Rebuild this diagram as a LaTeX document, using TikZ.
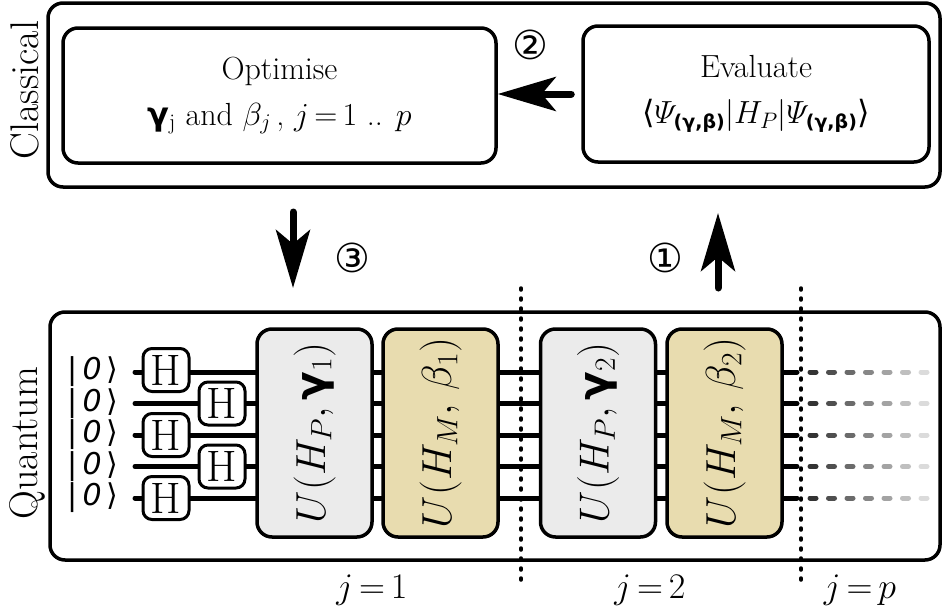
\RequirePackage{fix-cm}
\documentclass[tikz,border=0pt]{standalone}
\usepackage{amsmath}
\usepackage{fontspec}
\newfontfamily\dv{DejaVu Sans}
\usetikzlibrary{arrows.meta}
\definecolor{ugray}{RGB}{235,235,235}
\definecolor{utan}{RGB}{232,220,175}
\newcommand{\gam}{{\dv\bfseries γ}}
\newcommand{\gb}{\mbox{\dv\bfseries\fontsize{19}{19}\selectfont(γ,β)}}
\begin{document}
\begin{tikzpicture}[x=1pt,y=-1pt,
 frame/.style={draw, line width=3.5pt, rounded corners=15pt, inner sep=0pt},
 hbox/.style={draw, line width=3pt, rounded corners=9pt, fill=white, minimum width=46pt, minimum height=43pt, inner sep=0pt, font=\fontsize{44}{44}\selectfont},
 ubox/.style={draw, line width=3.5pt, rounded corners=15pt, rotate=90, minimum width=208pt, minimum height=115pt, inner sep=0pt, font=\fontsize{42}{42}\selectfont},
 wire/.style={line width=5pt, line cap=round},
 bigarrow/.style={line width=7pt, line cap=round, -{Stealth[length=58pt,width=34pt,inset=14pt]}},
 sep/.style={line width=3.5pt, line cap=round, dash pattern=on 2pt off 8pt},
 ket/.style={font=\dv\fontsize{30}{30}\selectfont, inner sep=0pt},
 lbl/.style={font=\fontsize{36}{36}\selectfont, inner sep=0pt},
 num/.style={font=\dv\fontsize{40}{40}\selectfont, inner sep=0pt},
 side/.style={font=\fontsize{40}{40}\selectfont, inner sep=0pt, rotate=90},
 txt/.style={align=center, font=\fontsize{32}{46}\selectfont},
]
\useasboundingbox (0,0) rectangle (943,613);

% classical part
\node[frame, minimum width=892pt, minimum height=184pt] (cl) at (494,95) {};
\node[side] (cllbl) at (25,90) {Classical};
\node[frame, txt, minimum width=433pt, minimum height=135pt] (opt) at (279.5,95.5)
  {Optimise\\ \gam$_{\mathrm{j}}$ and $\beta_j$\,, $j\,{=}\,1$ .. $p$};
\node[frame, txt, minimum width=346pt, minimum height=136pt] (eval) at (756,94)
  {Evaluate\\ {\dv⟨}$\varPsi_{\gb}|H_P|\varPsi_{\gb}${\dv⟩}};
\draw[bigarrow] ([xshift=-10pt]eval.west) -- (eval.west -| opt.east);
\node[num] (n2) at (530,45) {②};

% arrows between parts
\coordinate (a3s) at (293,212);
\coordinate (a3e) at (293,288);
\coordinate (a1s) at (718,288);
\coordinate (a1e) at (718,213);
\draw[bigarrow] (a3s) -- (a3e);
\draw[bigarrow] (a1s) -- (a1e);
\node[num] (n3) at (352,258) {③};
\node[num] (n1) at (665,258) {①};

% quantum part
\node[frame, minimum width=890pt, minimum height=248pt] (qu) at (495,436) {};
\node[side] (qulbl) at (27,443) {Quantum};

% wires
\foreach \i/\y in {1/372,2/403.5,3/435,4/466.5,5/498}{
  \coordinate (ws\i) at (135,\y);
  \coordinate (we\i) at (797,\y);
  \draw[wire] (ws\i) -- (we\i);
  \foreach \k in {0,...,6}{
    \pgfmathtruncatemacro\c{80-11*\k}
    \coordinate (fa\i\k) at (810+18.5*\k,\y);
    \coordinate (fb\i\k) at (816+18.5*\k,\y);
    \draw[wire, black!\c] (fa\i\k) -- (fb\i\k);
  }
  \node[ket] (k\i) at (93,\y) {|\,\textit{0}\,⟩};
}

% H gates
\node[hbox] (h1) at (166,370) {H};
\node[hbox] (h2) at (222,403.5) {H};
\node[hbox] (h3) at (166,435) {H};
\node[hbox] (h4) at (222,466.5) {H};
\node[hbox] (h5) at (166,498) {H};

% unitary blocks
\node[ubox, fill=ugray] (u1) at (314.5,433) {$U(H_P,\,$\gam$_1)$};
\node[ubox, fill=utan] (u2) at (440.5,433) {$U(H_M,\,\beta_1)$};
\node[ubox, fill=ugray] (u3) at (598,433) {$U(H_P,\,$\gam$_2)$};
\node[ubox, fill=utan] (u4) at (724.5,433) {$U(H_M,\,\beta_2)$};

% separators
\coordinate (d1t) at (521,288);
\coordinate (d1b) at (521,582);
\coordinate (d2t) at (801,288);
\coordinate (d2b) at (801,582);
\draw[sep] (d1t) -- (d1b);
\draw[sep] (d2t) -- (d2b);

% labels
\node[lbl] (j1) at (372,590) {$j\,{=}\,1$};
\node[lbl] (j2) at (650,590) {$j\,{=}\,2$};
\node[lbl] (jp) at (860,590) {$j\,{=}\,p$};
\end{tikzpicture}
\end{document}
